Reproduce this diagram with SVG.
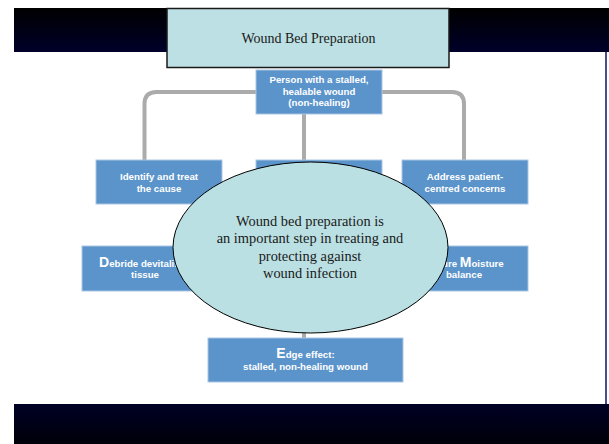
<svg xmlns="http://www.w3.org/2000/svg" width="609" height="444" viewBox="0 0 609 444">
<defs>
<linearGradient id="gTop" x1="0" y1="0" x2="0" y2="1"><stop offset="0" stop-color="#000000"/><stop offset="1" stop-color="#00002a"/></linearGradient>
<linearGradient id="gBot" x1="0" y1="0" x2="0" y2="1"><stop offset="0" stop-color="#000026"/><stop offset="1" stop-color="#000008"/></linearGradient>
<style>
.blue{fill:#5b94cb;stroke:#a9c5e4;stroke-width:1}
.bt{font-family:"Liberation Sans",Arial,sans-serif;font-weight:700;font-size:9.7px;fill:#ffffff;text-anchor:middle}
.big{font-size:14px}
.serif{font-family:"Liberation Serif","Times New Roman",serif;fill:#1a1a1a;text-anchor:middle}
.conn{fill:none;stroke:#ababab;stroke-width:4}
</style>
</defs>
<rect x="0" y="0" width="609" height="444" fill="#ffffff"/>
<rect x="14" y="8" width="595" height="44" fill="url(#gTop)"/>
<rect x="14" y="404" width="595" height="40" fill="url(#gBot)"/>
<line x1="606" y1="52" x2="606" y2="404" stroke="#00005a" stroke-width="1.4"/>
<g id="connectors">
<path class="conn" d="M144.5,160 V104 Q144.5,92 156.5,92 H452 Q464,92 464,104 V160"/>
<line class="conn" x1="304" y1="92" x2="304" y2="338"/>
</g>
<g id="title">
<rect x="167" y="8.5" width="282" height="59" fill="#bce0e3" stroke="#1a1a1a" stroke-width="1.5"/>
<text class="serif" x="308.5" y="42.7" font-size="14">Wound Bed Preparation</text>
</g>
<g id="person">
<rect class="blue" x="256" y="70" width="126" height="44"/>
<text class="bt" x="319" y="83.3">Person with a stalled,</text>
<text class="bt" x="319" y="94.7">healable wound</text>
<text class="bt" x="319" y="106">(non-healing)</text>
</g>
<g id="identify">
<rect class="blue" x="96" y="160" width="126" height="44"/>
<text class="bt" x="159" y="179.5">Identify and treat</text>
<text class="bt" x="159" y="191.8">the cause</text>
</g>
<g id="middle">
<rect class="blue" x="256" y="160" width="126" height="44"/>
</g>
<g id="address">
<rect class="blue" x="402" y="160" width="126" height="44"/>
<text class="bt" x="465" y="180">Address patient-</text>
<text class="bt" x="465" y="191.7">centred concerns</text>
</g>
<g id="debride">
<rect class="blue" x="82" y="246" width="126" height="45"/>
<text class="bt" x="145" y="266.7"><tspan class="big">D</tspan>ebride devitalised</text>
<text class="bt" x="145" y="277.7">tissue</text>
</g>
<g id="moisture">
<rect class="blue" x="401" y="246" width="127" height="45"/>
<text class="bt" x="464" y="267.3">Ensure <tspan class="big">M</tspan>oisture</text>
<text class="bt" x="464" y="278.3">balance</text>
</g>
<g id="edge">
<rect class="blue" x="208" y="338" width="195" height="44"/>
<text class="bt" x="305.5" y="358.3"><tspan class="big">E</tspan>dge effect:</text>
<text class="bt" x="305.5" y="370">stalled, non-healing wound</text>
</g>
<g id="ellipse">
<ellipse cx="310.5" cy="247.5" rx="137.5" ry="85.5" fill="#bae0e3" stroke="#000000" stroke-width="1"/>
<text class="serif" x="310" y="226" font-size="14.4">Wound bed preparation is</text>
<text class="serif" x="310" y="243.3" font-size="14.4">an important step in treating and</text>
<text class="serif" x="310" y="260.6" font-size="14.4">protecting against</text>
<text class="serif" x="310" y="277.8" font-size="14.4">wound infection</text>
</g>
</svg>
